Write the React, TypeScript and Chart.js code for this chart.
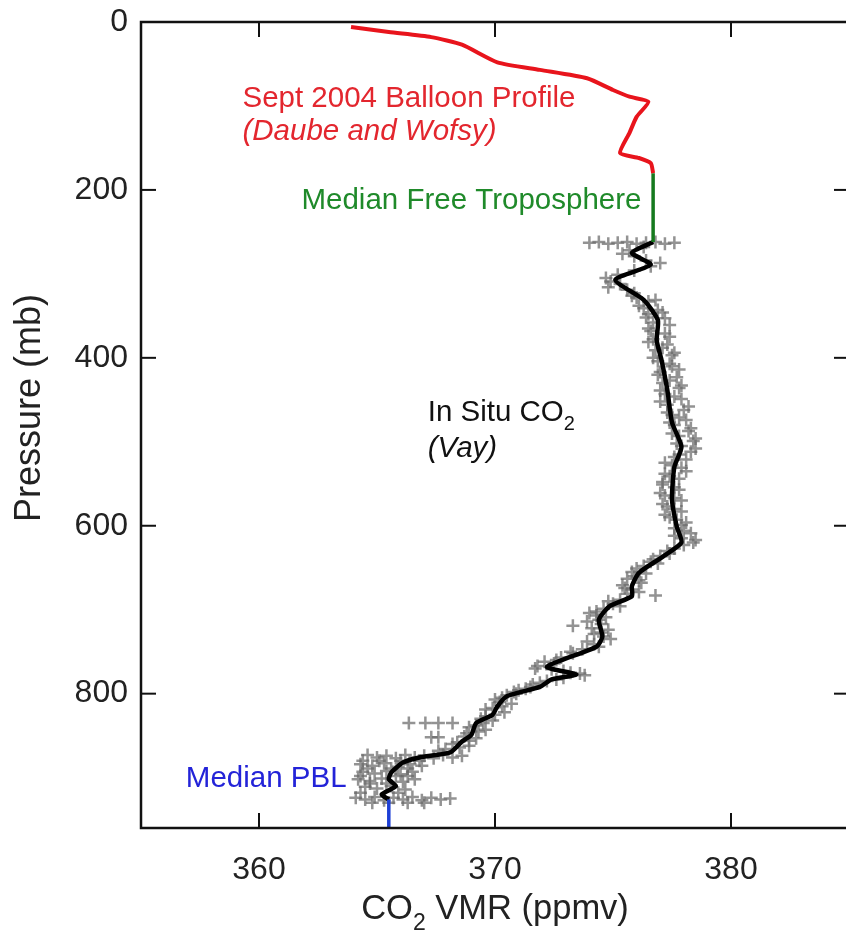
import React, { useEffect, useRef } from 'react';
import { Chart, registerables } from 'chart.js';

Chart.register(...registerables);

// ---- Data ----
const xTicks = [360, 370, 380];
const yTicks = [0, 200, 400, 600, 800];

const balloonCO2 = [363.9, 365.5, 367.3, 368.6, 370.1, 371.9, 373.9, 375.0, 375.7, 376.5, 376.0, 375.7, 375.3, 376.1, 376.6, 376.7];
const balloonP = [6, 12, 18, 27, 48, 57, 67, 81, 89, 95, 113, 132, 156, 162, 168, 180];

const freeTropCO2 = [376.7, 376.7];
const freeTropP = [180, 262];

const inSituCO2 = [376.7, 375.8, 376.6, 375.1, 376.3, 376.9, 376.85, 377.05, 377.3, 377.5, 377.9, 377.6, 377.5, 377.7, 377.9, 377.1, 376.1, 375.8, 375.8, 374.85, 374.4, 374.55, 374.3, 372.2, 373.45, 372.4, 371.9, 370.5, 370.1, 369.9, 369.2, 369.0, 368.6, 368.1, 366.8, 366.1, 365.6, 365.5, 365.8, 365.2, 365.5];
const inSituP = [262, 275, 289, 307, 331, 355, 379, 402, 438, 477, 506, 530, 569, 601, 620, 637, 656, 672, 684, 696, 712, 732, 744, 768, 777, 783, 792, 803, 815, 825, 835, 849, 857, 870, 876, 882, 894, 902, 910, 920, 926];

const pblCO2 = [365.5, 365.5];
const pblP = [926, 960];

const rawCO2 = [
  374.0, 374.4, 374.8, 375.2, 375.6, 376.0, 376.4, 376.8, 377.2, 377.6,
  376.3, 375.7, 375.4, 375.9, 376.4, 377.0, 376.6, 375.9, 375.2,
  374.7, 374.9, 375.3, 374.8, 375.6, 375.9,
  376.0, 376.5, 376.1, 376.9, 376.5, 377.2, 376.7,
  376.5, 377.2, 376.7, 377.3, 376.8, 377.5, 376.9, 377.5, 377.0, 377.7, 377.1, 377.8,
  377.2, 377.9, 377.3, 378.0, 377.5, 378.1, 377.6, 378.2, 377.8, 378.4, 377.9, 378.3, 377.6,
  377.2, 377.9, 377.2, 377.8, 377.1, 377.8, 377.2, 377.9, 377.3, 377.9, 377.4, 378.1, 377.6, 378.3, 377.9, 378.4, 377.6,
  377.4, 376.7, 376.9, 376.0, 376.4, 375.6, 376.2, 375.5, 376.1, 376.8, 375.3, 375.0, 374.6,
  374.0, 374.7, 373.9, 373.3, 374.8, 374.2, 374.9, 374.2, 373.7, 373.3, 372.8,
  372.1, 371.8, 372.4, 373.2, 373.8, 372.9, 372.2, 371.6, 371.3, 370.8,
  370.5, 370.0, 370.7, 369.9, 370.4, 369.6, 369.9, 369.2, 369.6, 368.8, 369.2, 368.4, 368.9, 367.9,
  366.35, 367.05, 367.6, 368.2, 367.3, 367.6,
  364.6, 365.0, 365.4, 365.8, 366.2, 366.6, 367.0, 367.4, 367.8, 368.2, 368.6,
  364.3, 364.8, 365.3, 365.9, 366.4, 366.9, 364.4, 364.9, 365.4, 366.0, 366.5, 364.2, 364.7, 365.2, 366.1, 366.6, 364.5, 365.0, 365.6, 366.2,
  364.1, 364.5, 364.9, 365.3, 365.7, 366.1, 366.5, 366.9, 367.3, 367.7, 368.1,
  375.8, 376.8, 376.3, 377.1, 376.4, 377.4, 376.6, 377.4, 376.5, 377.1, 377.6, 376.7, 377.4, 377.8, 376.9, 377.4, 377.9, 377.0,
  377.6, 377.0, 378.2, 377.3, 377.8, 377.4, 378.3, 377.5, 378.5, 377.7, 378.5, 377.8, 378.1,
  377.5, 378.1, 377.4, 377.1, 377.6, 377.0, 377.6, 377.1, 377.6, 377.2, 377.7, 377.9, 378.0, 377.6, 378.5, 378.0, 377.3,
  377.0, 376.6, 376.3, 375.8, 375.9, 376.1, 375.4, 375.8, 375.6, 374.8, 375.3, 374.3,
  374.3, 374.4, 374.5, 374.1, 374.5, 374.6, 373.9, 374.4, 373.2, 372.6, 372.5, 371.7, 372.9, 373.6, 372.6, 371.9, 371.5, 371.0,
  370.9, 370.3, 370.2, 370.3, 369.6, 370.0, 369.4, 369.5, 368.9, 369.3, 368.7, 368.9, 368.2, 368.5, 367.6,
  364.4, 365.1, 366.0, 366.8, 364.6, 365.6, 366.3, 364.3, 365.8, 366.3, 364.7, 365.4, 365.9, 364.3, 364.8, 365.5, 366.3, 367.0,
];
const rawP = [
  263, 262, 264, 263, 262, 264, 263, 262, 264, 263,
  268, 272, 276, 279, 284, 287, 291, 296, 301,
  305, 309, 312, 316, 319, 323,
  328, 333, 338, 343, 348, 353, 358,
  365, 371, 378, 384, 391, 397, 404, 410, 417, 423, 430, 436,
  443, 449, 456, 462, 468, 474, 480, 487, 493, 499, 505, 512, 518,
  525, 531, 538, 544, 551, 557, 564, 570, 577, 583, 590, 596, 603, 609, 615, 620, 627,
  633, 640, 645, 651, 657, 663, 668, 674, 679, 683, 688, 693, 699,
  704, 709, 714, 719, 724, 729, 735, 741, 747, 752, 757,
  762, 767, 771, 775, 778, 781, 785, 789, 794, 798,
  802, 807, 812, 817, 822, 827, 832, 838, 843, 847, 853, 858, 862, 866,
  835, 835, 835, 835, 852, 852,
  873, 876, 874, 877, 873, 876, 874, 877, 873, 876, 874,
  884, 886, 883, 887, 884, 886, 893, 895, 892, 896, 893, 902, 904, 901, 905, 902, 911, 913, 910, 914,
  924, 926, 923, 927, 924, 926, 923, 927, 924, 926, 925,
  326, 331, 341, 346, 352, 361, 368, 375, 381, 388, 394, 400, 407, 414, 420, 427, 433, 439,
  446, 452, 458, 465, 471, 477, 484, 490, 496, 502, 508, 515, 521,
  528, 535, 541, 548, 554, 561, 567, 574, 580, 587, 593, 599, 606, 612, 617, 623, 630,
  636, 643, 648, 655, 660, 665, 671, 676, 681, 690, 696, 702,
  707, 712, 717, 722, 727, 732, 738, 744, 750, 760, 764, 770, 773, 776, 783, 787, 792, 796,
  800, 805, 810, 815, 819, 825, 830, 835, 840, 845, 851, 856, 860, 864, 868,
  880, 880, 880, 880, 889, 889, 889, 898, 898, 898, 907, 907, 918, 918, 930, 930, 930, 930,
];

const FONT = '"Liberation Sans", Arial, Helvetica, sans-serif';

const zip = (xs: number[], ys: number[]) => xs.map((x, i) => ({ x, y: ys[i] }));

type Part = { t: string; sub?: boolean };
type Note = { parts: Part[]; x: number; y: number; color: string; italic?: boolean; size: number };

const notes: Note[] = [
  { parts: [{ t: 'Sept 2004 Balloon Profile' }], x: 359.3, y: 91, color: '#e3262e', size: 29.5 },
  { parts: [{ t: '(Daube and Wofsy)' }], x: 359.3, y: 131, color: '#e3262e', italic: true, size: 29.5 },
  { parts: [{ t: 'Median Free Troposphere' }], x: 361.8, y: 213, color: '#1f8a2a', size: 29.5 },
  { parts: [{ t: 'In Situ CO' }, { t: '2', sub: true }], x: 367.15, y: 465, color: '#111111', size: 29.5 },
  { parts: [{ t: '(Vay)' }], x: 367.15, y: 508, color: '#111111', italic: true, size: 29.5 },
  { parts: [{ t: 'Median PBL' }], x: 356.9, y: 901, color: '#2323d8', size: 29.5 },
];

function drawParts(ctx: CanvasRenderingContext2D, parts: Part[], x: number, y: number, size: number, italic: boolean, align: 'left' | 'center') {
  const mainFont = `${italic ? 'italic ' : ''}${size}px ${FONT}`;
  const subSize = Math.round(size * 0.68);
  const subFont = `${italic ? 'italic ' : ''}${subSize}px ${FONT}`;
  let total = 0;
  parts.forEach((p) => {
    ctx.font = p.sub ? subFont : mainFont;
    total += ctx.measureText(p.t).width;
  });
  let cx = align === 'center' ? x - total / 2 : x;
  ctx.textAlign = 'left';
  ctx.textBaseline = 'middle';
  parts.forEach((p) => {
    ctx.font = p.sub ? subFont : mainFont;
    ctx.fillText(p.t, cx, p.sub ? y + size * 0.42 : y);
    cx += ctx.measureText(p.t).width;
  });
}

const framePlugin = {
  id: 'framePlugin',
  afterDatasetsDraw(chart: any) {
    const { ctx, chartArea, scales } = chart;
    const { left, right, top, bottom } = chartArea;
    const xs = scales.x;
    const ys = scales.y;
    ctx.save();
    notes.forEach((n) => {
      ctx.fillStyle = n.color;
      drawParts(ctx, n.parts, xs.getPixelForValue(n.x), ys.getPixelForValue(n.y), n.size, !!n.italic, 'left');
    });
    ctx.strokeStyle = '#111';
    ctx.lineWidth = 2.5;
    ctx.strokeRect(left, top, right - left, bottom - top);
    ctx.lineWidth = 2;
    const L = 15;
    const seg = (a: number, b: number, c: number, d: number) => {
      ctx.beginPath();
      ctx.moveTo(a, b);
      ctx.lineTo(c, d);
      ctx.stroke();
    };
    xTicks.forEach((v) => {
      const px = xs.getPixelForValue(v);
      seg(px, bottom, px, bottom - L);
      seg(px, top, px, top + L);
    });
    yTicks.forEach((v) => {
      const py = ys.getPixelForValue(v);
      seg(left, py, left + L, py);
      seg(right, py, right - L, py);
    });
    ctx.fillStyle = '#222';
    drawParts(ctx, [{ t: 'CO' }, { t: '2', sub: true }, { t: ' VMR (ppmv)' }], (left + right) / 2, 909, 34.5, false, 'center');
    ctx.translate(30, 408);
    ctx.rotate(-Math.PI / 2);
    drawParts(ctx, [{ t: 'Pressure (mb)' }], 0, 0, 36, false, 'center');
    ctx.restore();
  },
};

export default function App() {
  const ref = useRef<HTMLCanvasElement>(null);
  useEffect(() => {
    if (!ref.current) return;
    const chart = new Chart(ref.current, {
      type: 'scatter',
      data: {
        datasets: [
          {
            label: 'raw',
            data: zip(rawCO2, rawP),
            order: 10,
            pointStyle: 'cross',
            pointRadius: 6.5,
            pointBorderWidth: 2.5,
            borderColor: 'rgba(105,105,105,0.72)',
            backgroundColor: 'rgba(105,105,105,0.72)',
            showLine: false,
          },
          {
            label: 'insitu',
            data: zip(inSituCO2, inSituP),
            order: 5,
            showLine: true,
            borderColor: '#000',
            borderWidth: 4.5,
            pointRadius: 0,
            tension: 0.2,
          },
          {
            label: 'balloon',
            data: zip(balloonCO2, balloonP),
            order: 1,
            showLine: true,
            borderColor: '#e8141c',
            borderWidth: 4,
            pointRadius: 0,
            tension: 0.2,
          },
          {
            label: 'freetrop',
            data: zip(freeTropCO2, freeTropP),
            order: 1,
            showLine: true,
            borderColor: '#167a1e',
            borderWidth: 3.5,
            pointRadius: 0,
          },
          {
            label: 'pbl',
            data: zip(pblCO2, pblP),
            order: 1,
            showLine: true,
            borderColor: '#1d3fd6',
            borderWidth: 3.5,
            pointRadius: 0,
          },
        ],
      },
      options: {
        animation: false,
        responsive: false,
        layout: { padding: { top: 22, right: 21, left: 0, bottom: 0 } },
        plugins: { legend: { display: false }, tooltip: { enabled: false } },
        scales: {
          x: {
            type: 'linear',
            min: 355,
            max: 385,
            afterBuildTicks: (s: any) => {
              s.ticks = xTicks.map((v) => ({ value: v }));
            },
            afterFit: (s: any) => {
              s.height = 113;
              s.paddingLeft = 0;
              s.paddingRight = 0;
            },
            grid: { display: false, drawTicks: false },
            border: { display: false },
            ticks: { font: { family: FONT, size: 32 }, color: '#222', padding: 23, maxRotation: 0 },
          },
          y: {
            type: 'linear',
            reverse: true,
            min: 0,
            max: 960,
            afterBuildTicks: (s: any) => {
              s.ticks = yTicks.map((v) => ({ value: v }));
            },
            afterFit: (s: any) => {
              s.width = 141;
              s.paddingTop = 0;
              s.paddingBottom = 0;
            },
            grid: { display: false, drawTicks: false },
            border: { display: false },
            ticks: { font: { family: FONT, size: 32 }, color: '#222', padding: 13 },
          },
        },
      },
      plugins: [framePlugin],
    });
    return () => chart.destroy();
  }, []);
  return (
    <div style={{ position: 'fixed', left: 0, top: 0, width: 846, height: 941, overflow: 'hidden', background: '#fff' }}>
      <canvas ref={ref} width={870} height={941} style={{ width: 870, height: 941, display: 'block' }} />
    </div>
  );
}
